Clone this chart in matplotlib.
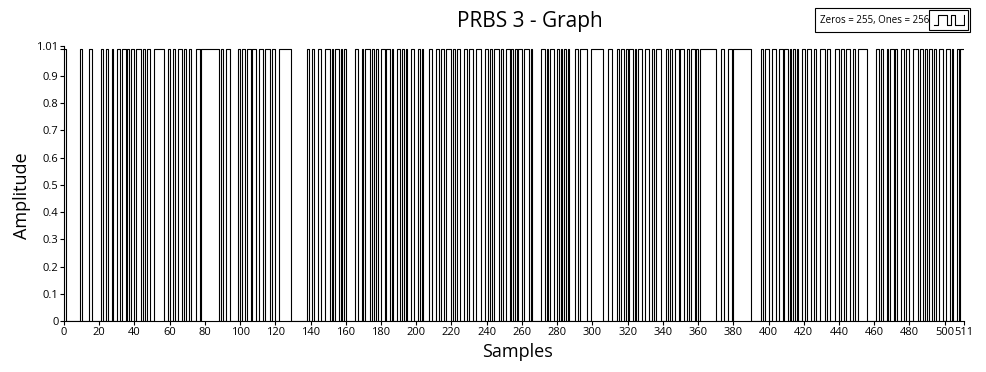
import numpy as np
import matplotlib
matplotlib.use("Agg")
import matplotlib.pyplot as plt
from matplotlib.patches import Rectangle

# PRBS bit sequence read (estimated) from the chart, 511 samples
bit_rows = [
    "10000000010000110000",
    "01001001001101101011",
    "01110101100111111001",
    "00100110100100011011",
    "11111111010011000001",
    "01101101100110111011",
    "00111111100000000010",
    "01001100111010110101",
    "00000110010111010100",
    "11011010011010100110",
    "01010001100110110111",
    "01011001101100111001",
    "10101110100110101011",
    "01110100000110101100",
    "10101010001101111001",
    "11111100011000101101",
    "01101011001100101110",
    "00101001101100101101",
    "01111111110001100110",
    "11111111110000001011",
    "00110011011010101001",
    "10110010011101100011",
    "01101100100111110000",
    "01101001011010011011",
    "00111011010110100110",
    "01101001011",
]
bits = [int(c) for c in "".join(bit_rows)]

x_ticks = list(range(0, 501, 20)) + [511]
x_tick_labels = [str(v) for v in x_ticks]
y_ticks = [0, 0.1, 0.2, 0.3, 0.4, 0.5, 0.6, 0.7, 0.8, 0.9, 1.0, 1.01]
y_tick_labels = ["0", "0.1", "0.2", "0.3", "0.4", "0.5", "0.6", "0.7", "0.8", "0.9", "", "1.01"]
title = "PRBS 3 - Graph"
legend_text = "Zeros = 255, Ones = 256"

plt.rcParams['font.family'] = ['Open Sans', 'DejaVu Sans']

fig = plt.figure(figsize=(9.87, 3.72), dpi=100)
W, H = 987, 372
left, right, top, bottom = 64, 964, 46, 321
ax = fig.add_axes([left / W, 1 - bottom / H, (right - left) / W, (bottom - top) / H])

n = len(bits)
xs = np.arange(n + 1)
ys = np.array(bits + [bits[-1]], dtype=float)
ax.step(xs, ys, where='post', color='black', linewidth=0.8)

ax.set_xlim(0, n)
ax.set_ylim(0, 1.01)
ax.set_xticks(x_ticks)
ax.set_xticklabels(x_tick_labels, fontsize=8)
ax.set_yticks(y_ticks)
ax.set_yticklabels(y_tick_labels, fontsize=8)
ax.tick_params(axis='both', direction='out', length=3, width=0.8, pad=1)
for s in ['top', 'right']:
    ax.spines[s].set_visible(False)
ax.spines['left'].set_linewidth(0.8)
ax.spines['bottom'].set_linewidth(0.8)

fig.text(517 / W, 1 - 352 / H, "Samples", fontsize=13, ha='center', va='center')
fig.text(22 / W, 1 - 196 / H, "Amplitude", fontsize=13, ha='center', va='center', rotation=90)

fig.text(530 / W, 1 - 22 / H, title, fontsize=15, ha='center', va='center')

# legend box
fig.patches.append(Rectangle((815 / W, 1 - 32 / H), 155 / W, 24 / H, transform=fig.transFigure,
                             fill=False, edgecolor='black', linewidth=0.8))
fig.text(875 / W, 1 - 20 / H, legend_text, fontsize=7, ha='center', va='center')
fig.patches.append(Rectangle((929 / W, 1 - 30 / H), 39 / W, 20 / H, transform=fig.transFigure,
                             fill=False, edgecolor='black', linewidth=0.8))
iax = fig.add_axes([933 / W, 1 - 27 / H, 32 / W, 14 / H])
iax.plot([0, 0.5, 0.5, 1.5, 1.5, 2, 2, 2.5, 2.5, 3.5, 3.5],
         [0, 0, 1, 1, 0, 0, 1, 1, 0, 0, 1], color='black', linewidth=0.8)
iax.set_xlim(-0.1, 3.6)
iax.set_ylim(-0.15, 1.15)
iax.axis('off')

fig.savefig("out.png", dpi=100)
